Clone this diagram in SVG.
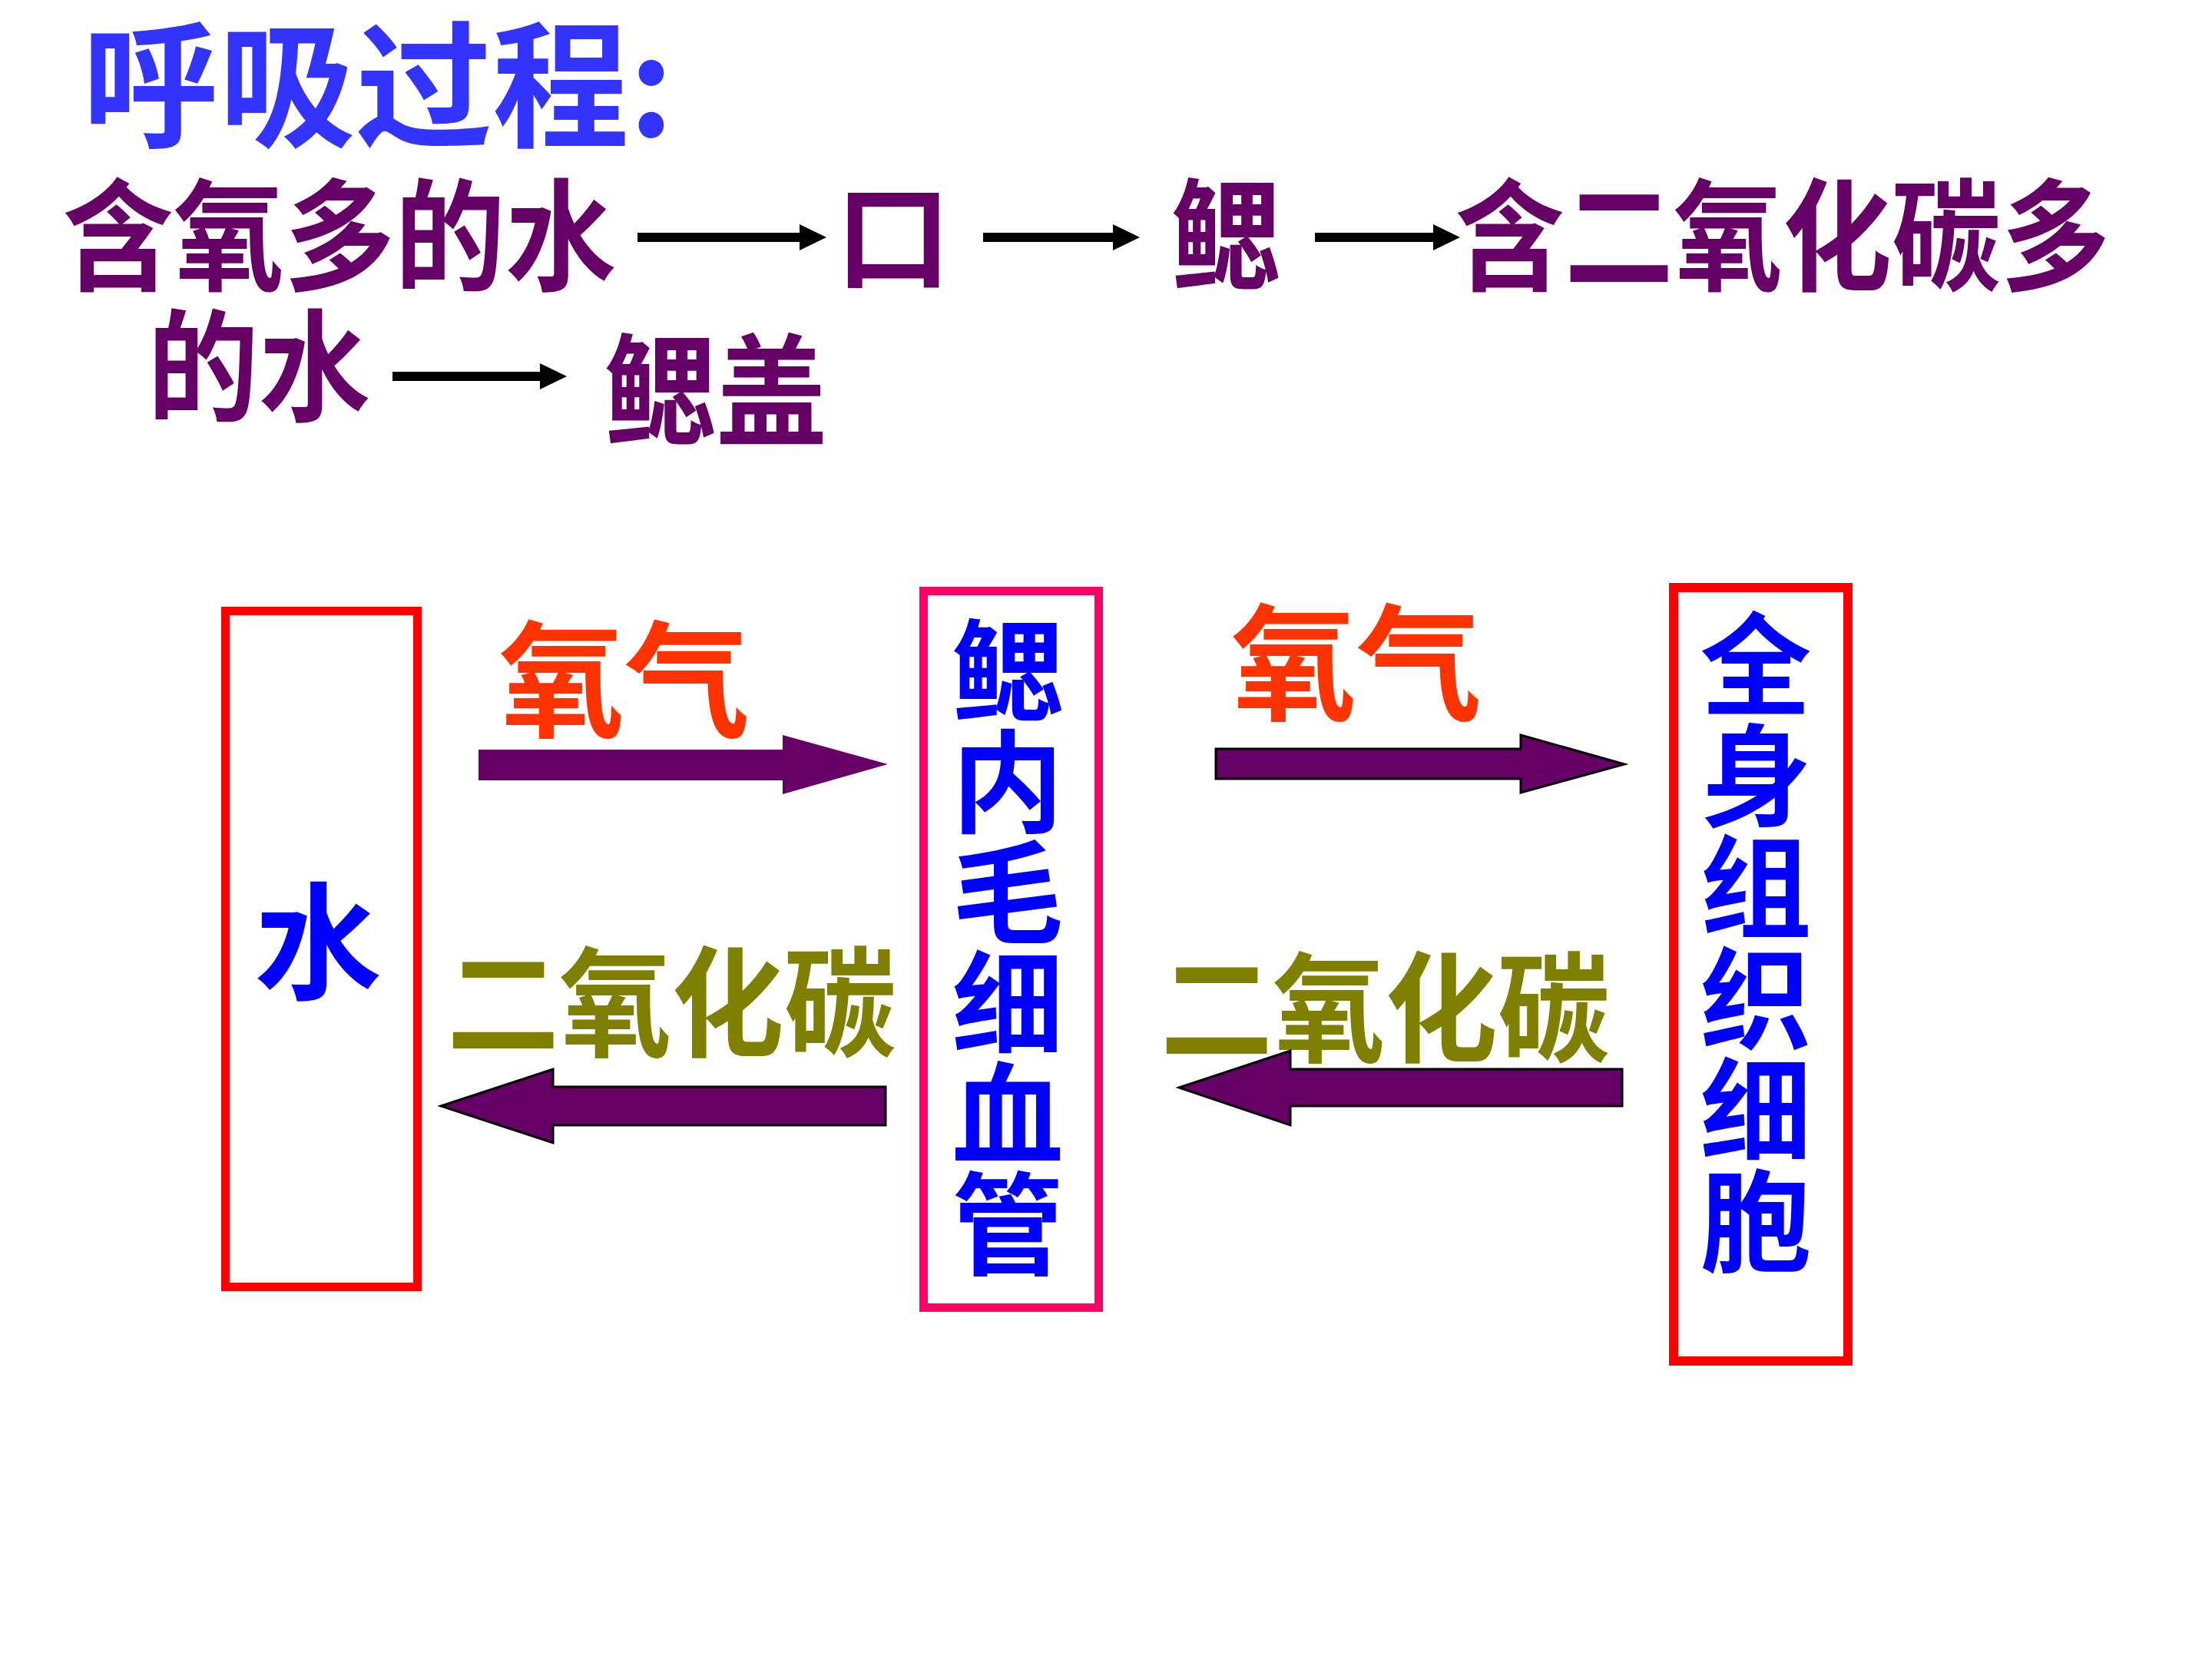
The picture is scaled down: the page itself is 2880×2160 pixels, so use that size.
<svg xmlns="http://www.w3.org/2000/svg" width="2880" height="2160" viewBox="0 0 2880 2160">
<style>
text{font-family:"Noto Sans CJK SC","Noto Sans CJK TC",sans-serif;font-weight:700}
.title{fill:#3333FF;font-size:178px}
.flow{fill:#660066;font-size:158px}
.o2{fill:#FF3300;font-size:165px}
.co2{fill:#808000;font-size:155px}
.node{fill:#0000FF;font-size:145px}
.box{fill:#FFFFFF;stroke-width:11}
.red{stroke:#FF0000}
.pink{stroke:#FF0066}
.thin{fill:#000000}
.big{fill:#660066}
.outl{stroke:#000000;stroke-width:3;stroke-linejoin:miter}
</style>
<rect width="2880" height="2160" fill="#FFFFFF"/>
<g id="title">
<text class="title" x="107" y="178">呼吸过程:</text>
</g>
<g id="flow-text">
<text class="flow" x="82" y="366" textLength="720" lengthAdjust="spacingAndGlyphs">含氧多的水</text>
<text class="flow" x="1163" y="364" text-anchor="middle" style="font-size:150px">口</text>
<text class="flow" x="1596" y="366" text-anchor="middle" textLength="142" lengthAdjust="spacingAndGlyphs">鳃</text>
<text class="flow" x="1895" y="366" textLength="852" lengthAdjust="spacingAndGlyphs">含二氧化碳多</text>
<text class="flow" x="192" y="536" textLength="290" lengthAdjust="spacingAndGlyphs">的水</text>
<text class="flow" x="787" y="568" textLength="290" lengthAdjust="spacingAndGlyphs">鳃盖</text>
</g>
<g id="node-water">
<rect class="box red" x="293.5" y="795.5" width="250" height="880"/>
<text class="node" x="414" y="1288" text-anchor="middle" style="font-size:165px">水</text>
</g>
<g id="node-capillary">
<rect class="box pink" x="1202.5" y="769.5" width="228" height="933"/>
<text class="node" text-anchor="middle"><tspan x="1312" y="929">鳃</tspan><tspan x="1312" y="1073">内</tspan><tspan x="1312" y="1217">毛</tspan><tspan x="1312" y="1361">细</tspan><tspan x="1312" y="1505">血</tspan><tspan x="1312" y="1649">管</tspan></text>
</g>
<g id="node-cells">
<rect class="box red" x="2179" y="765" width="227" height="1007" style="stroke-width:12"/>
<text class="node" text-anchor="middle"><tspan x="2286" y="920">全</tspan><tspan x="2286" y="1065">身</tspan><tspan x="2286" y="1210">组</tspan><tspan x="2286" y="1355">织</tspan><tspan x="2286" y="1500">细</tspan><tspan x="2286" y="1645">胞</tspan></text>
</g>
<g id="labels">
<text class="o2" x="650" y="947" textLength="326" lengthAdjust="spacingAndGlyphs">氧气</text>
<text class="o2" x="1603" y="925" textLength="326" lengthAdjust="spacingAndGlyphs">氧气</text>
<text class="co2" x="582" y="1363" textLength="585" lengthAdjust="spacingAndGlyphs">二氧化碳</text>
<text class="co2" x="1511" y="1370" textLength="585" lengthAdjust="spacingAndGlyphs">二氧化碳</text>
</g>
<g id="connectors">
<polygon class="thin" points="830,303 1041,303 1041,292 1076,309 1041,326 1041,315 830,315"/>
<polygon class="thin" points="1280,303 1449,303 1449,292 1484,309 1449,326 1449,315 1280,315"/>
<polygon class="thin" points="1712,303 1866,303 1866,292 1901,309 1866,326 1866,315 1712,315"/>
<polygon class="thin" points="511,484 703,484 703,473 738,490 703,507 703,496 511,496"/>
<polygon class="big" points="623,976 1019,976 1019,957 1156,995 1019,1034 1019,1016 623,1016"/>
<polygon class="big outl" points="1583,975 1980,975 1980,957 2115,995 1980,1032 1980,1014 1583,1014"/>
<polygon class="big outl" points="1153,1415 720,1415 720,1392 574,1440 720,1488 720,1465 1153,1465"/>
<polygon class="big outl" points="2112,1392 1680,1392 1680,1368 1535,1416 1680,1465 1680,1440 2112,1440"/>
</g>
</svg>
